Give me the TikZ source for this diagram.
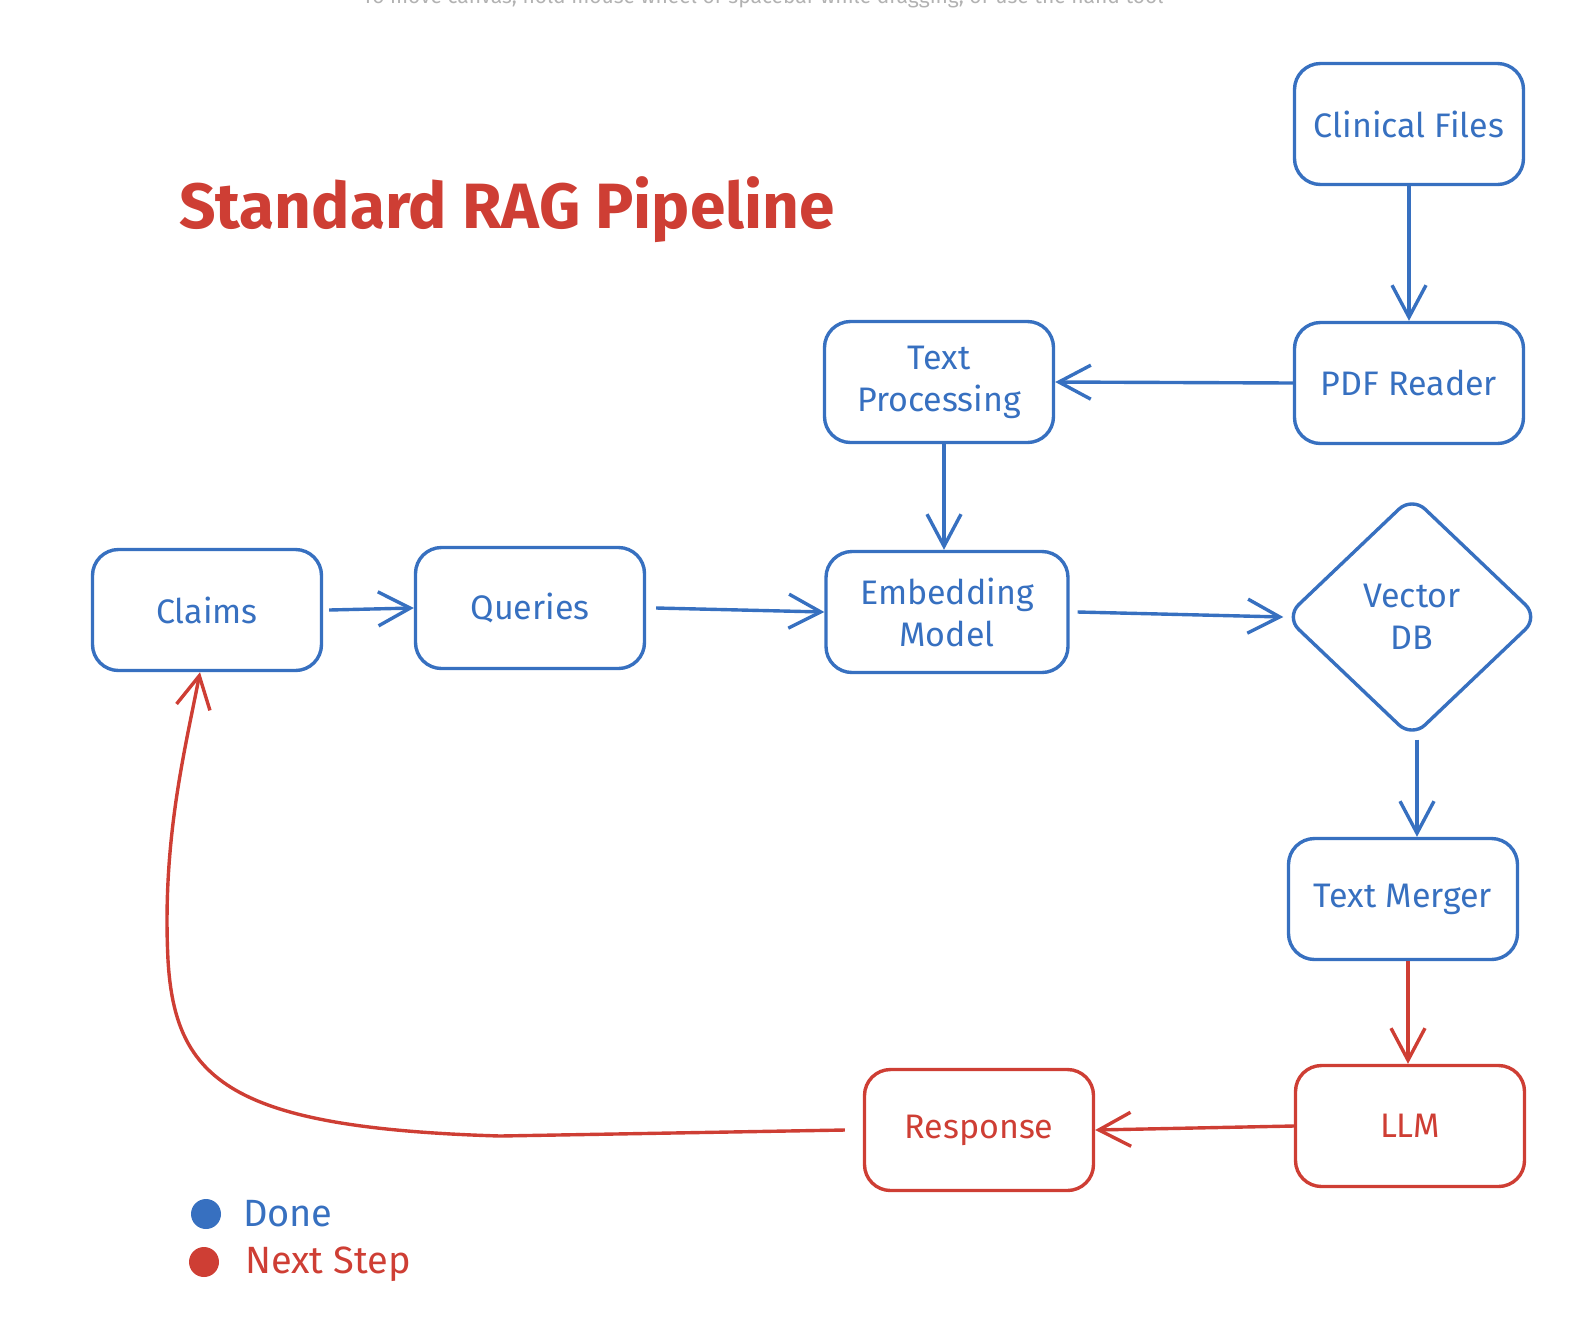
\documentclass[tikz,border=0pt]{standalone}
\usepackage{fontspec}
\setmainfont{Fira Sans}
\usetikzlibrary{arrows.meta,shapes.geometric}
\definecolor{bl}{RGB}{55,112,192}
\definecolor{rd}{RGB}{206,62,52}
\tikzset{
  box/.style={draw=bl, text=bl, line width=1.7pt, rounded corners=13pt,
    minimum width=114.5pt, minimum height=60.5pt, align=center,
    font=\fontsize{17}{21}\selectfont, inner sep=2pt},
  rbox/.style={box, draw=rd, text=rd},
  dia/.style={diamond, draw=bl, text=bl, line width=1.7pt, rounded corners=9pt,
    minimum width=127pt, minimum height=121pt, align=center,
    font=\fontsize{17}{21}\selectfont, inner sep=0pt},
  arr/.style={draw=bl, line width=1.7pt, -{Straight Barb[length=16pt,width=17pt,line width=1.7pt]}},
  rarr/.style={arr, draw=rd},
}
\begin{document}
\begin{tikzpicture}[x=0.5pt,y=-0.5pt]
\useasboundingbox (0,0) rectangle (1580,1340);
\node[anchor=base, text=black!30, font=\fontsize{10.5}{12}\selectfont] (hint) at (763,3)
  {To move canvas, hold mouse wheel or spacebar while dragging, or use the hand tool};
\node[anchor=west, text=rd, font=\fontsize{32}{36}\selectfont\bfseries] (title) at (172,210) {Standard RAG Pipeline};

\node[box] (clin) at (1409,124) {Clinical Files};
\node[box] (pdf) at (1409,383) {PDF Reader};
\node[box] (tp) at (939,382) {Text\\Processing};
\node[box, minimum width=121pt] (emb) at (947,612) {Embedding\\Model};
\node[box] (claims) at (207,610) {Claims};
\node[box] (queries) at (530,608) {Queries};
\node[dia] (vdb) at (1412,617) {Vector\\DB};
\node[box] (merge) at (1403,899) {Text Merger};
\node[rbox] (llm) at (1410,1126) {LLM};
\node[rbox] (resp) at (979,1130) {Response};

\draw[arr] (clin.south) -- (pdf.north);
\draw[arr] (pdf.west) -- (tp.east);
\draw[arr] (tp.south -| 944,0) -- (emb.north -| 944,0);
\draw[arr] ([xshift=3pt]claims.east) -- (queries.west);
\draw[arr] ([xshift=5pt]queries.east) -- (emb.west);
\draw[arr] ([xshift=4pt]emb.east) -- (vdb.west);
\draw[arr] (vdb.south -| 1417,0) -- (merge.north -| 1417,0);
\draw[rarr] (merge.south -| 1408,0) -- (llm.north -| 1408,0);
\draw[rarr] (llm.west) -- (resp.east);
\draw[rarr] ([xshift=-9pt]resp.west) -- (500,1136) .. controls (230,1128) and (175,1080) .. (168,960) .. controls (162,840) and (185,750) .. (claims.south -| 200,0);

\fill[bl] (206,1214) circle (7.5pt);
\node[anchor=west, text=bl, font=\fontsize{19}{22}\selectfont] (done) at (236,1214) {Done};
\fill[rd] (204,1262) circle (7.5pt);
\node[anchor=west, text=rd, font=\fontsize{19}{22}\selectfont] (next) at (238,1264) {Next Step};
\end{tikzpicture}
\end{document}
